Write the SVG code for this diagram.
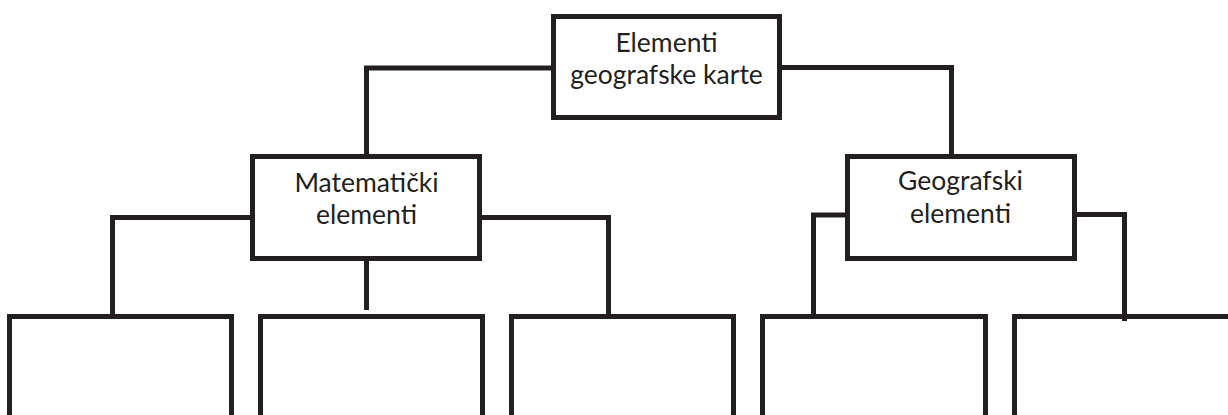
<svg xmlns="http://www.w3.org/2000/svg" width="1228" height="415" viewBox="0 0 1228 415">
<style>
.box{fill:#fff;stroke:#231f20;stroke-width:5}
.open{fill:none;stroke:#231f20;stroke-width:5}
.con{fill:none;stroke:#231f20;stroke-width:5}
text{font-family:Lato,"Open Sans",sans-serif;font-size:26.5px;fill:#231f20;text-anchor:middle}
</style>
<rect width="1228" height="415" fill="#fff"/>
<g id="connectors">
<path class="con" d="M553,68 H366.5 V156"/>
<path class="con" d="M779,67.5 H951.5 V156"/>
<path class="con" d="M252,217.5 H112.5 V316"/>
<path class="con" d="M480,217.5 H608.5 V316"/>
<path class="con" d="M366.5,258 V310"/>
<path class="con" d="M847,215 H813.5 V316"/>
<path class="con" d="M1074,214.5 H1124.5 V321"/>
</g>
<g id="root">
<rect class="box" x="553.5" y="16.5" width="226" height="101"/>
<text x="666.5" y="52">Elementi</text>
<text x="666.5" y="83.5">geografske karte</text>
</g>
<g id="matematicki">
<rect class="box" x="252.5" y="156.5" width="227" height="102"/>
<text x="366.5" y="192">Matematički</text>
<text x="366.5" y="224">elementi</text>
</g>
<g id="geografski">
<rect class="box" x="847.5" y="156.5" width="227" height="102"/>
<text x="960.5" y="190">Geografski</text>
<text x="960.5" y="223">elementi</text>
</g>
<g id="leaf1"><path class="open" d="M9.5,420 V316.5 H231.5 V420"/></g>
<g id="leaf2"><path class="open" d="M260.5,420 V316.5 H482.5 V420"/></g>
<g id="leaf3"><path class="open" d="M511.5,420 V316.5 H733.5 V420"/></g>
<g id="leaf4"><path class="open" d="M762.5,420 V316.5 H985.5 V420"/></g>
<g id="leaf5"><path class="open" d="M1014.5,420 V316.5 H1232"/></g>
</svg>
